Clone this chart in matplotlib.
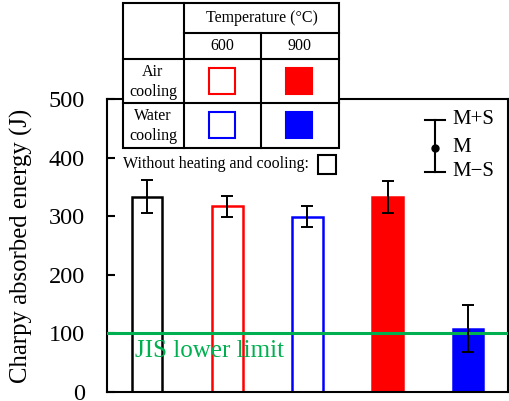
import matplotlib
matplotlib.use("Agg")
import matplotlib.pyplot as plt
from matplotlib.patches import Rectangle
import numpy as np

plt.rcParams['font.family'] = ['Liberation Serif', 'DejaVu Serif']

# bars: as received, 600 air, 600 water, 900 air, 900 water
conditions = ["None", "600 air", "600 water", "900 air", "900 water"]
mean_energy = [333, 317, 299, 333, 108]
std_energy = [28, 18, 18, 27, 40]
edge_colors = ["black", "red", "blue", "red", "blue"]
face_colors = ["white", "white", "white", "red", "blue"]
jis_limit = 100
y_ticks = [0, 100, 200, 300, 400, 500]
temps = ["600", "900"]
coolings = ["Air\ncooling", "Water\ncooling"]

green = "#00B050"

fig = plt.figure(figsize=(5.1, 4.01), dpi=100)
ax = fig.add_axes([107 / 510, 9 / 401, 401 / 510, 293 / 401])

x = np.arange(1, len(mean_energy) + 1)
ax.bar(x, mean_energy, width=0.38, color=face_colors, edgecolor=edge_colors,
       linewidth=1.8, zorder=2)
ax.axhline(jis_limit, color=green, lw=2.2, zorder=3)
ax.errorbar(x, mean_energy, yerr=std_energy, fmt='none', ecolor='black',
            elinewidth=1.4, capsize=4, capthick=1.4, zorder=4)
ax.text(0.85, 60, "JIS lower limit", color=green, fontsize=18,
        va='baseline', ha='left', zorder=5)

ax.set_xlim(0.5, 5.5)
ax.set_ylim(0, 500)
ax.set_xticks([])
ax.set_yticks(y_ticks)
ax.tick_params(axis='y', direction='in', length=6, width=1.5,
               labelsize=17.5, pad=16)
for s in ax.spines.values():
    s.set_linewidth(1.5)
ax.set_ylabel("Charpy absorbed energy (J)", fontsize=17.8, labelpad=11)

# overlay in pixel coordinates for the table and the legend glyphs
ov = fig.add_axes([0, 0, 1, 1], zorder=5)
ov.set_xlim(0, 510)
ov.set_ylim(401, 0)
ov.axis('off')
ov.patch.set_alpha(0)

lw = 1.5
ov.add_patch(Rectangle((123, 3), 216, 145, facecolor='white', edgecolor='black', lw=lw))
for yy, x0 in [(33, 184), (59, 123), (103, 123)]:
    ov.plot([x0, 339], [yy, yy], color='black', lw=lw)
ov.plot([184, 184], [3, 148], color='black', lw=lw)
ov.plot([261, 261], [33, 148], color='black', lw=lw)

ov.text(261.5, 18, "Temperature (\u00b0C)", ha='center', va='center', fontsize=11.5)
for cx, t in zip([222, 300], temps):
    ov.text(cx, 46, t, ha='center', va='center', fontsize=11.5)
for cy, c in zip([82, 126], coolings):
    ov.text(153, cy, c, ha='center', va='center', fontsize=11.5, linespacing=1.3)

sq = 26
for cy, col in zip([68, 112], ["red", "blue"]):
    ov.add_patch(Rectangle((209, cy), sq, sq, facecolor='white', edgecolor=col, lw=1.5))
    ov.add_patch(Rectangle((286, cy), sq, sq, facecolor=col, edgecolor=col, lw=1.5))

ov.text(123, 164, "Without heating and cooling:", ha='left', va='center', fontsize=11.5)
ov.add_patch(Rectangle((318, 155), 18, 19, facecolor='white', edgecolor='black', lw=1.5))

# mean / standard deviation key
ov.plot([435, 435], [120, 172], color='black', lw=1.5)
ov.plot([425, 445], [120, 120], color='black', lw=1.5)
ov.plot([425, 445], [172, 172], color='black', lw=1.5)
ov.plot([435], [148], 'o', color='black', ms=5)
for yy, t in zip([120, 148, 172], ["M+S", "M", "M\u2212S"]):
    ov.text(452, yy, t, ha='left', va='center', fontsize=15)

fig.savefig("out.png", dpi=100)
